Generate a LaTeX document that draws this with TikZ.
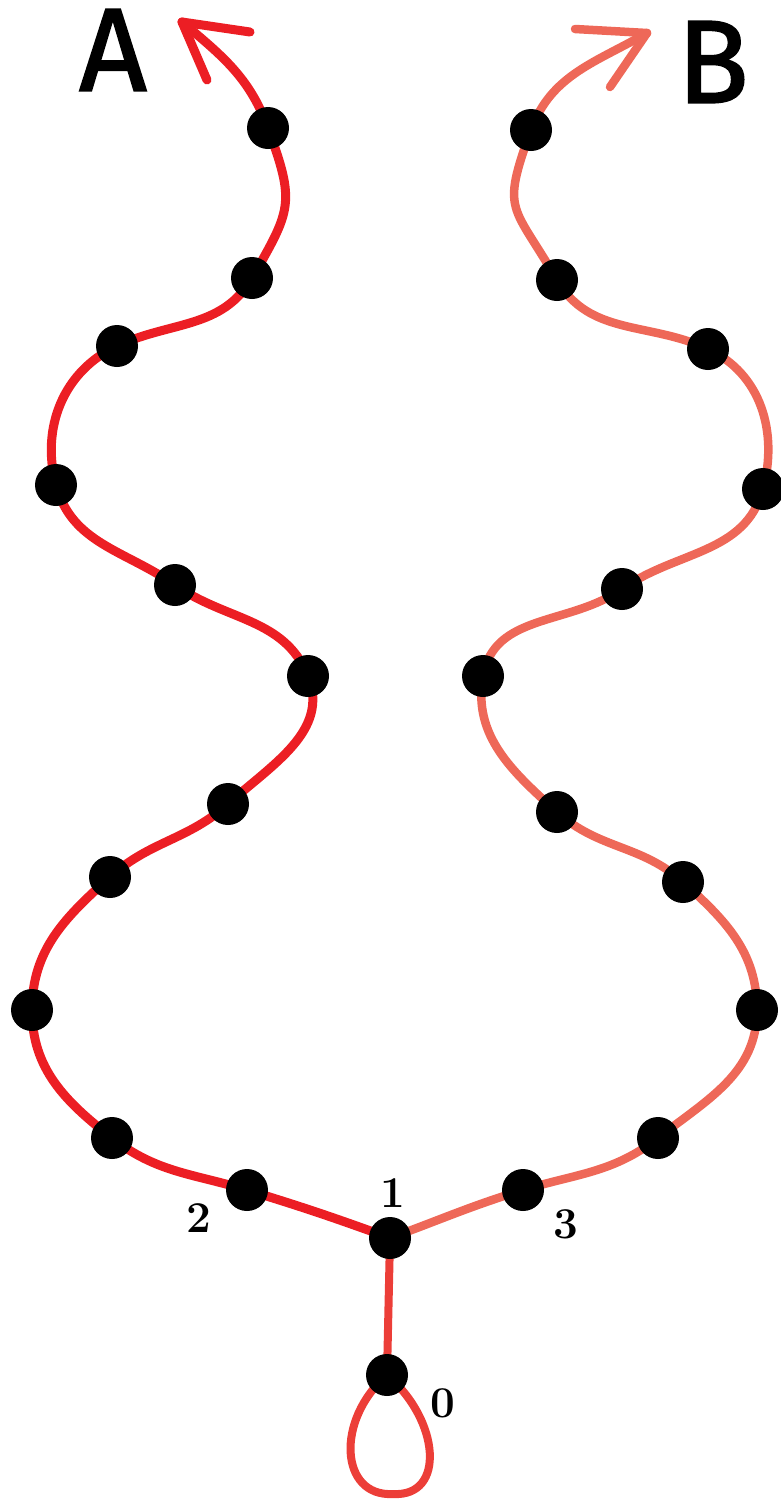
\documentclass[tikz,border=0pt]{standalone}
\usepackage{fontspec}
\newfontfamily\hand[FakeBold=1.6]{Fira Sans}
\usetikzlibrary{backgrounds}
\definecolor{redA}{RGB}{236,30,36}
\definecolor{redB}{RGB}{238,104,88}
\definecolor{redC}{RGB}{236,62,56}
\tikzset{
  dot/.style={circle,fill=black,minimum size=42pt,inner sep=0pt},
  pathA/.style={draw=redA,line width=9pt,line cap=round,line join=round},
  pathB/.style={draw=redB,line width=8.5pt,line cap=round,line join=round},
  pathC/.style={draw=redC,line width=8pt,line cap=round,line join=round},
  biglet/.style={font=\hand\fontsize{118}{118}\selectfont,inner sep=0pt},
  num/.style={font=\bfseries\fontsize{44}{44}\selectfont,inner sep=0pt}
}
\begin{document}
\begin{tikzpicture}[x=1pt,y=-1pt]
\useasboundingbox (0,0) rectangle (781,1505);
% left chain
\node[dot] (a1) at (268,128) {};
\node[dot] (a2) at (252,278) {};
\node[dot] (a3) at (117,346) {};
\node[dot] (a4) at (56,485) {};
\node[dot] (a5) at (175,585) {};
\node[dot] (a6) at (308,676) {};
\node[dot] (a7) at (228,804) {};
\node[dot] (a8) at (110,877) {};
\node[dot] (a9) at (32,1010) {};
\node[dot] (a10) at (112,1138) {};
\node[dot] (a11) at (247,1190) {};
% right chain
\node[dot] (b1) at (531,130) {};
\node[dot] (b2) at (557,280) {};
\node[dot] (b3) at (708,349) {};
\node[dot] (b4) at (763,489) {};
\node[dot] (b5) at (622,589) {};
\node[dot] (b6) at (483,676) {};
\node[dot] (b7) at (557,812) {};
\node[dot] (b8) at (683,882) {};
\node[dot] (b9) at (757,1010) {};
\node[dot] (b10) at (658,1138) {};
\node[dot] (b11) at (523,1190) {};
% centre
\node[dot] (n1) at (390,1238) {};
\node[dot] (n0) at (387,1375) {};
% shape points
\coordinate (atip) at (182,22);
\coordinate (btip) at (647,33);
\coordinate (lb) at (393,1494);
\begin{pgfonlayer}{background}
\draw[pathA] (n1.center) to[out=160,in=343] (a11.center) to[out=163,in=322] (a10.center)
  to[out=142,in=270] (a9.center) to[out=90,in=222] (a8.center) to[out=42,in=222] (a7.center)
  to[out=42,in=292] (a6.center) to[out=112,in=325] (a5.center) to[out=145,in=285] (a4.center)
  to[out=105,in=205] (a3.center) to[out=25,in=240] (a2.center)
  to[out=60,in=290,looseness=1.35] (a1.center) to[out=110,in=320] (atip);
\draw[pathA] (atip) -- ++(68,10);
\draw[pathA] (atip) -- ++(25,58);
\draw[pathB] (n1.center) to[out=20,in=197] (b11.center) to[out=17,in=218] (b10.center)
  to[out=38,in=270] (b9.center) to[out=90,in=318] (b8.center) to[out=138,in=318] (b7.center)
  to[out=138,in=260] (b6.center) to[out=80,in=215] (b5.center) to[out=35,in=255] (b4.center)
  to[out=75,in=335] (b3.center) to[out=155,in=300] (b2.center)
  to[out=120,in=250,looseness=1.5] (b1.center) to[out=70,in=210] (btip);
\draw[pathB] (btip) -- ++(-72,-4);
\draw[pathB] (btip) -- ++(-37,54);
\draw[pathC] (n1.center) -- (n0.center);
\draw[pathC] (n0.center) .. controls (335,1420) and (340,1497) .. (lb) .. controls (446,1497) and (440,1420) .. (n0.center);
\end{pgfonlayer}
% labels
\node[biglet] (la) at (113,50) {A};
\node[biglet] (lbB) at (713,62) {B};
\node[num] (t1) at (393,1193) {1};
\node[num] (t2) at (199,1218) {2};
\node[num] (t3) at (566,1224) {3};
\node[num] (t0) at (443,1403) {0};
\end{tikzpicture}
\end{document}
